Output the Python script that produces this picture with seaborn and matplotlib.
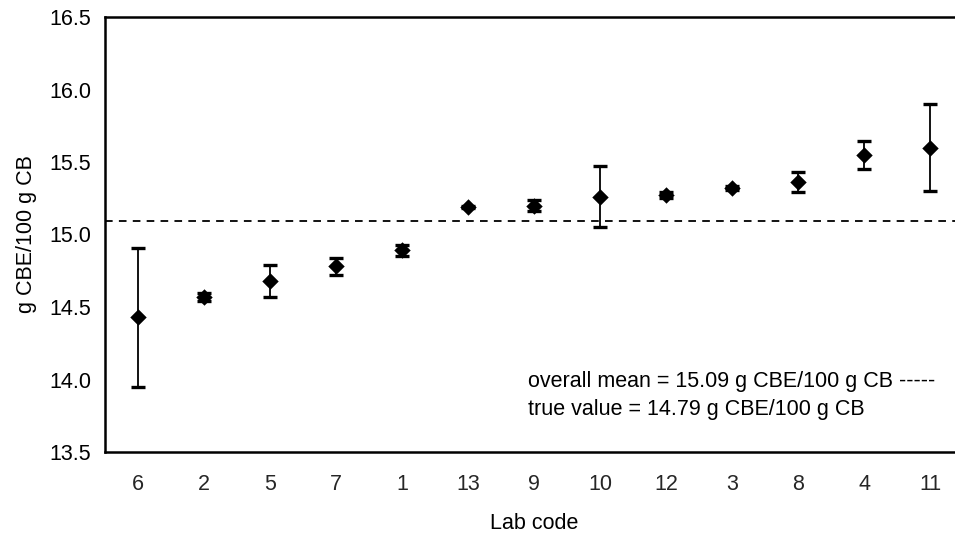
import matplotlib
matplotlib.use("Agg")
import matplotlib.pyplot as plt
import seaborn as sns
import pandas as pd

# Lab results, ordered by reported mean
lab_codes = ["6", "2", "5", "7", "1", "13", "9", "10", "12", "3", "8", "4", "11"]
lab_means = [14.43, 14.57, 14.68, 14.78, 14.89, 15.19, 15.20, 15.26, 15.27, 15.32, 15.36, 15.55, 15.60]
lab_sd = [0.48, 0.03, 0.11, 0.06, 0.04, 0.01, 0.04, 0.21, 0.02, 0.015, 0.07, 0.095, 0.30]

overall_mean = 15.09
true_value = 14.79

y_ticks = [13.5, 14.0, 14.5, 15.0, 15.5, 16.0, 16.5]

df = pd.DataFrame({"lab": lab_codes, "mean": lab_means, "sd": lab_sd})

sns.set_style("white")
plt.rcParams["font.family"] = ["Liberation Sans", "DejaVu Sans"]
plt.rcParams["lines.scale_dashes"] = False
plt.rcParams["text.color"] = "black"
plt.rcParams["axes.labelcolor"] = "black"

FS = 15.5

W, H = 955, 539
fig = plt.figure(figsize=(W / 100, H / 100), dpi=100)
ax = fig.add_axes([105 / W, 87 / H, 858 / W, 435 / H])

# reference line for the overall mean
ax.axhline(overall_mean, color="black", lw=1.3, dashes=(5.5, 4.5), zorder=1)

# error bars (± sd) and lab means
ax.errorbar(df["lab"], df["mean"], yerr=df["sd"], fmt="none", ecolor="black",
            elinewidth=1.3, capsize=4.9, capthick=2.4, zorder=2)
sns.scatterplot(data=df, x="lab", y="mean", marker="D", s=70, color="black",
                edgecolor="black", linewidth=0, ax=ax, zorder=3, legend=False)

ax.set_xlim(-0.5, len(lab_codes) - 0.5)
ax.set_ylim(13.5, 16.5)
ax.set_yticks(y_ticks)
ax.set_yticklabels([f"{t:.1f}" for t in y_ticks])

# ticks on the x axis sit between the categories
ax.set_xticks([i + 0.5 for i in range(-1, len(lab_codes))], minor=False)
ax.set_xticklabels([])
ax.set_xticks(range(len(lab_codes)), minor=True)
ax.set_xticklabels(lab_codes, minor=True)
ax.tick_params(axis="x", which="major", direction="out", length=5, width=1.2, color="black")
ax.tick_params(axis="x", which="minor", length=0, pad=16, labelsize=FS)
ax.tick_params(axis="y", direction="out", length=5, width=1.2, color="black", labelsize=FS, pad=5)
ax.tick_params(colors="black", labelcolor="black")

for side in ["left", "bottom", "top", "right"]:
    ax.spines[side].set_visible(True)
    ax.spines[side].set_color("black")
    ax.spines[side].set_linewidth(1.8)

ax.set_xlabel("Lab code", fontsize=FS, labelpad=13)
ax.set_ylabel("g CBE/100 g CB", fontsize=FS, labelpad=9)

fig.text(528 / W, 1 - 381 / H, f"overall mean = {overall_mean:.2f} g CBE/100 g CB -----",
         fontsize=FS, va="center", ha="left")
fig.text(528 / W, 1 - 409 / H, f"true value = {true_value:.2f} g CBE/100 g CB",
         fontsize=FS, va="center", ha="left")

fig.savefig("out.png", dpi=100)
